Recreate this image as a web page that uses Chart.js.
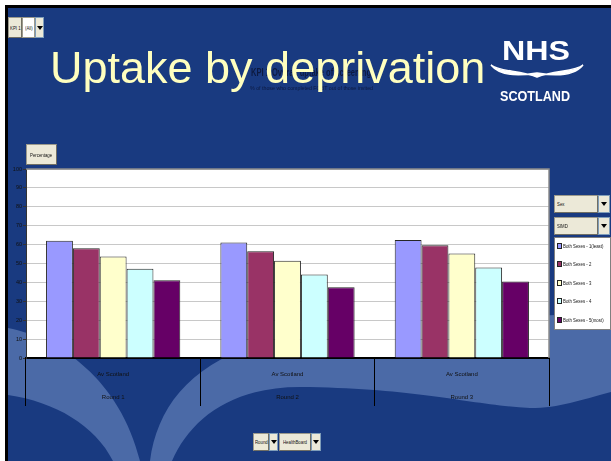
<!DOCTYPE html>
<html>
<head>
<meta charset="utf-8">
<script src="https://cdn.jsdelivr.net/npm/chart.js@4"></script>
<style>
  html, body { margin: 0; padding: 0; background: #fff; }
  #page { position: relative; width: 611px; height: 461px; overflow: hidden; }
  #bg { position: absolute; left: 0; top: 0; }
  #chart { position: absolute; left: 0; top: 0; }
  .abs { position: absolute; white-space: nowrap; }
  .narrow { font-family: "Liberation Sans", Arial, sans-serif; white-space: nowrap; }
  .c { display: inline-block; transform: scaleX(0.72); transform-origin: 0 50%; }
  .btn { position: absolute; box-sizing: border-box; background: #ece9d8; border: 1px solid #9c9a8c;
         border-right-color: #716f64; border-bottom-color: #716f64; font-size: 6px; color: #111;
         display: flex; align-items: center; justify-content: center; overflow: hidden; }
  .field { position: absolute; box-sizing: border-box; background: #fff; border: 1px solid #9c9a8c;
           font-size: 6px; color: #111; display: flex; align-items: center; justify-content: center; overflow: hidden; }
  .arrow { position: absolute; box-sizing: border-box; background: #ece9d8; border: 1px solid #7f9db9;
           display: flex; align-items: center; justify-content: center; }
  .arrow::after { content: ""; border-left: 3px solid transparent; border-right: 3px solid transparent;
                  border-top: 4px solid #000; }
  #legend { position: absolute; left: 554px; top: 237px; width: 57px; height: 93px; box-sizing: border-box;
            background: #fff; border: 1px solid #808080; }
  .li { position: absolute; left: 2px; font-size: 6px; color: #111; display: flex; align-items: center; }
  .sw { display: inline-block; width: 3px; height: 4px; border: 1px solid #222; margin-right: 1px; }
</style>
</head>
<body>
<div id="page">
  <svg id="bg" width="611" height="461">
    <rect x="0" y="0" width="611" height="461" fill="#ffffff"/>
    <rect x="5" y="5" width="606" height="456" fill="#000"/>
    <rect x="8" y="8" width="603" height="453" fill="#193a80"/>
    <path d="M 8,328 C 60,338 120,380 140,461 L 113,461 C 95,425 55,402 8,395 Z" fill="#4b6aa7"/>
    <path d="M 150,461 C 158,400 200,350 300,335 C 420,318 520,318 611,312 L 611,392 C 580,400 560,408 530,408 C 470,405 420,388 300,387 C 230,387 190,420 172,461 Z" fill="#4b6aa7"/>
    <path d="M 491,65 C 500,76 520,76 537,73 C 554,76 574,76 583,65 C 575,72 555,70 537,77 C 519,70 499,72 491,65 Z" fill="#fff" stroke="#fff" stroke-width="1.5"/>
  </svg>

  <canvas id="chart" width="611" height="461"></canvas>

  <div class="abs narrow" id="kpiTitle" style="left:251px; top:66px; font-size:11px; font-weight:bold; color:#0d1a40;">KPI 1 Overall uptake of screening</div>
  <div class="abs narrow" id="kpiSub" style="left:250px; top:85px; font-size:6px; color:#0d1a40;">% of those who completed FOBT out of those invited</div>

  <div class="abs" style="left:50px; top:45px; font-family:'Liberation Sans', Arial, sans-serif; font-size:45px; line-height:45px; color:#ffffbf;">Uptake by deprivation</div>

  <div class="abs" id="nhs" style="left:502px; top:35px; font-family:'Liberation Sans', Arial, sans-serif; font-weight:bold; font-size:28px; line-height:32px; color:#fff;">NHS</div>
  <div class="abs" id="scot" style="left:500px; top:88px; font-family:'Liberation Sans', Arial, sans-serif; font-weight:bold; font-size:15px; line-height:16px; color:#fff;">SCOTLAND</div>

  <div class="btn narrow" style="left:8px; top:17px; width:14px; height:21px;"><span class="c">KPI 1</span></div>
  <div class="field narrow" style="left:22px; top:17px; width:13px; height:21px;"><span class="c">(All)</span></div>
  <div class="arrow" style="left:35px; top:17px; width:9px; height:21px;"></div>

  <div class="btn narrow" style="left:26px; top:144px; width:31px; height:21px;"><span class="c">Percentage</span></div>

  <div class="btn narrow" style="left:554px; top:195px; width:44px; height:18px; justify-content:flex-start; padding-left:2px;"><span class="c">Sex</span></div>
  <div class="arrow" style="left:598px; top:195px; width:12px; height:18px;"></div>
  <div class="btn narrow" style="left:554px; top:217px; width:44px; height:18px; justify-content:flex-start; padding-left:2px;"><span class="c">SIMD</span></div>
  <div class="arrow" style="left:598px; top:217px; width:12px; height:18px;"></div>
  <div id="legend" class="narrow"></div>

  <div class="btn narrow" style="left:253px; top:433px; width:16px; height:18px;"><span class="c">Round</span></div>
  <div class="arrow" style="left:269px; top:433px; width:9px; height:18px;"></div>
  <div class="btn narrow" style="left:279px; top:433px; width:32px; height:18px;"><span class="c">HealthBoard</span></div>
  <div class="arrow" style="left:311px; top:433px; width:10px; height:18px;"></div>
</div>

<script>
// data
const rounds = ["Round 1", "Round 2", "Round 3"];
const areaName = "Av Scotland";
const simdNames = ["Both Sexes - 1(least)", "Both Sexes - 2", "Both Sexes - 3", "Both Sexes - 4", "Both Sexes - 5(most)"];
const simd1 = [62.0, 61.1, 62.5];
const simd2 = [58.1, 56.5, 59.7];
const simd3 = [53.7, 51.4, 55.3];
const simd4 = [47.2, 44.2, 47.9];
const simd5 = [41.2, 37.5, 40.5];
const yMin = 0, yMax = 100, yStep = 10;

const seriesValues = [simd1, simd2, simd3, simd4, simd5];
const seriesColors = ["#9999ff", "#993366", "#ffffcc", "#ccffff", "#660066"];

// squeeze texts into the width they take in the picture
function fitWidth(id, w) {
  const el = document.getElementById(id);
  const cur = el.getBoundingClientRect().width;
  el.style.transformOrigin = "0 0";
  el.style.transform = "scaleX(" + (w / cur) + ")";
}
fitWidth("kpiTitle", 120);
fitWidth("kpiSub", 123);
fitWidth("nhs", 68);
fitWidth("scot", 70);

// legend in the pivot field box
const legendEl = document.getElementById("legend");
const legendTops = [9, 27, 46, 64, 83];
simdNames.forEach(function(name, i) {
  const d = document.createElement("div");
  d.className = "li";
  d.style.top = (legendTops[i] - 4) + "px";
  d.innerHTML = '<span class="sw" style="background:' + seriesColors[i] + '"></span><span class="c">' + name + '</span>';
  legendEl.appendChild(d);
});

// condensed spans keep their layout box narrow too
document.querySelectorAll(".c").forEach(function(s) {
  const w = s.offsetWidth;
  s.style.marginRight = (-w * 0.28) + "px";
});

const plotBg = {
  id: "plotBg",
  beforeDraw(chart) {
    const a = chart.chartArea;
    const ctx = chart.ctx;
    ctx.save();
    ctx.fillStyle = "#ffffff";
    ctx.fillRect(a.left, a.top, a.right - a.left, a.bottom - a.top);
    ctx.restore();
  },
  afterDraw(chart) {
    const a = chart.chartArea;
    const ctx = chart.ctx;
    ctx.save();
    ctx.strokeStyle = "#8c8c8c";
    ctx.lineWidth = 1.5;
    ctx.beginPath();
    ctx.moveTo(a.left, a.top);
    ctx.lineTo(a.right, a.top);
    ctx.lineTo(a.right, a.bottom);
    ctx.stroke();
    ctx.restore();
  }
};

const ctx = document.getElementById("chart").getContext("2d");
new Chart(ctx, {
  type: "bar",
  data: {
    labels: rounds.map(r => [areaName, r]),
    datasets: simdNames.map((name, i) => ({
      label: name,
      data: seriesValues[i],
      backgroundColor: seriesColors[i],
      borderColor: "#262626",
      borderWidth: 1,
      categoryPercentage: 0.77,
      barPercentage: 1.0
    }))
  },
  options: {
    responsive: false,
    animation: false,
    layout: { padding: { left: 0, top: 169, right: 62, bottom: 55 } },
    plugins: {
      legend: { display: false },
      title: { display: false },
      tooltip: { enabled: false }
    },
    scales: {
      x: {
        grid: { display: true, drawOnChartArea: false, tickLength: 48, tickColor: "#000", tickWidth: 1, offset: true },
        border: { display: true, color: "#000", width: 2 },
        ticks: {
          color: "#111",
          padding: -43.5,
          maxRotation: 0,
          font: { family: "'Liberation Sans', sans-serif", size: 6, lineHeight: 23 / 6 }
        },
        afterFit(scale) { scale.height = 48; }
      },
      y: {
        min: yMin,
        max: yMax,
        ticks: {
          stepSize: yStep,
          color: "#111",
          padding: 1,
          font: { family: "'Liberation Sans', sans-serif", size: 5.5 }
        },
        grid: { color: "#c8c8c8", lineWidth: 1, tickLength: 3, tickColor: "#333" },
        border: { display: true, color: "#333", width: 1 },
        afterFit(scale) { scale.width = 26; }
      }
    }
  },
  plugins: [plotBg]
});
</script>
</body>
</html>
